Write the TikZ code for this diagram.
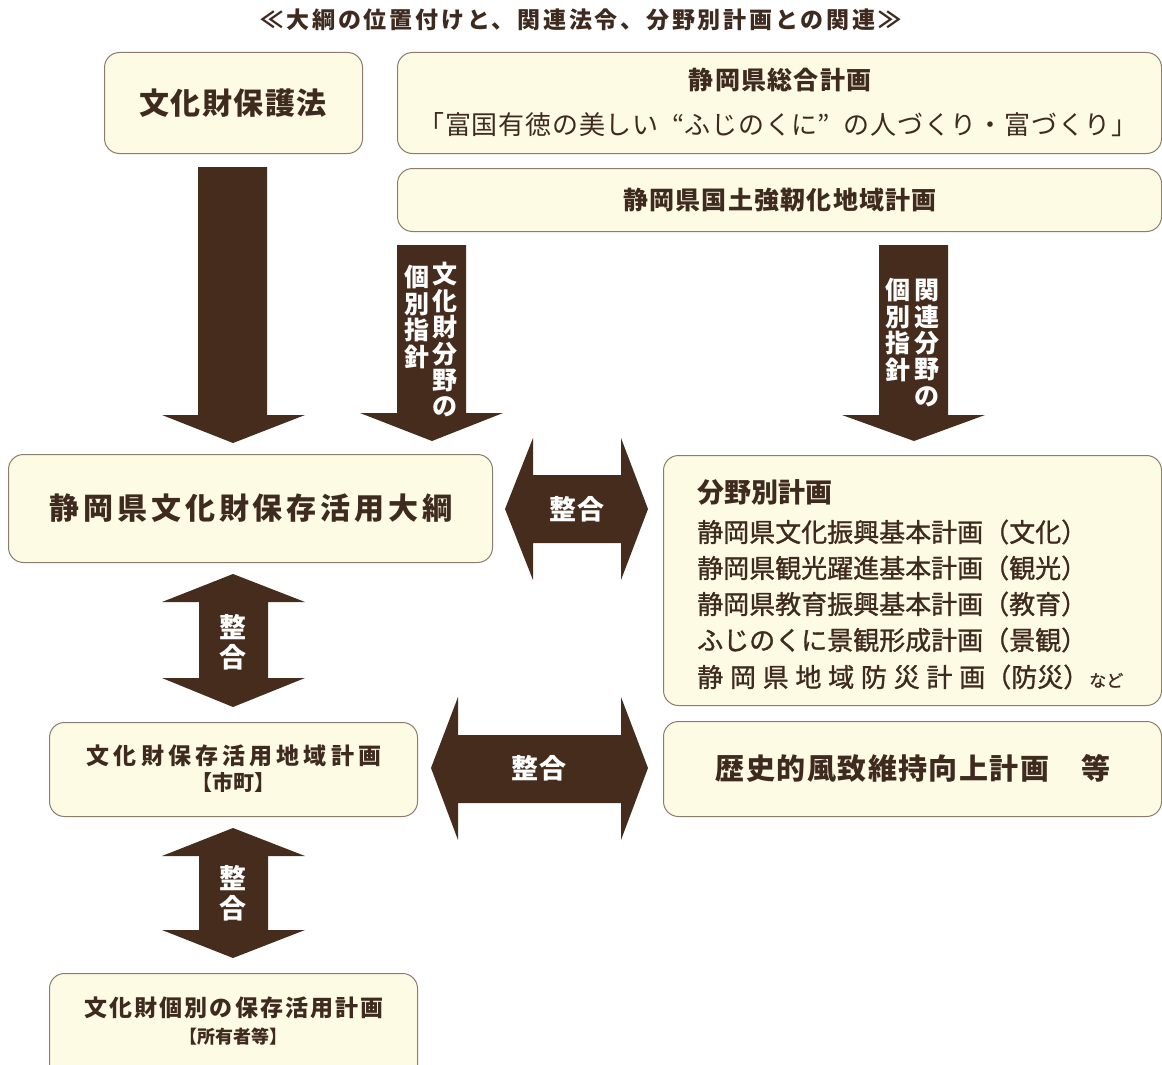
\documentclass[tikz,border=0pt]{standalone}
\usepackage{fontspec}
\setmainfont{Noto Sans CJK JP}
\newfontfamily\jpmed[FakeBold=1.1]{Noto Sans CJK JP}
\definecolor{boxfill}{RGB}{254,251,229}
\definecolor{boxline}{RGB}{140,124,108}
\definecolor{arrowc}{RGB}{69,44,28}
\definecolor{textc}{RGB}{62,42,30}
\newcommand\fs[2]{\fontsize{#1}{#2}\selectfont}
\newcommand\ls[1]{\addfontfeature{LetterSpace=#1}}
\tikzset{
  box/.style={draw=boxline, fill=boxfill, rounded corners=15pt, line width=1pt, inner sep=0pt, anchor=north west},
  blk/.style={fill=arrowc, draw=none},
  txt/.style={text=textc, inner sep=0pt},
  wtxt/.style={text=white, inner sep=0pt, align=center},
}
\begin{document}
\begin{tikzpicture}[x=1pt,y=-1pt]
\clip (0,0) rectangle (1162,1065);
\fill[white] (0,0) rectangle (1162,1065);

% title
\node[txt, font=\fs{23}{26}\bfseries] (title) at (581,20) {\ls{12}≪大綱の位置付けと、関連法令、分野別計画との関連≫};

% boxes
\node[box, minimum width=258pt, minimum height=101pt] (hogo) at (104,52) {};
\node[box, minimum width=764pt, minimum height=101pt] (sogo) at (397,52) {};
\node[box, minimum width=764pt, minimum height=63pt] (kyoj) at (397,168) {};
\node[box, minimum width=484pt, minimum height=108pt] (taiko) at (8,454) {};
\node[box, minimum width=498pt, minimum height=250pt] (bunya) at (663,455) {};
\node[box, minimum width=368pt, minimum height=94pt] (chiiki) at (49,722) {};
\node[box, minimum width=498pt, minimum height=95pt] (rekishi) at (663,721) {};
\node[box, minimum width=368pt, minimum height=110pt] (kobetsu) at (49,973) {};

% box texts
\node[txt, font=\fs{30}{36}\bfseries] (t-hogo) at (233,103) {\ls{5}文化財保護法};
\node[txt, font=\fs{25}{28}\bfseries] (t-sogo1) at (780,80) {\ls{5}静岡県総合計画};
\node[txt, font=\fs{26}{28}] (t-sogo2) at (778,125) {\ls{3}「富国有徳の美しい\makebox[26pt][r]{“}ふじのくに\makebox[26pt][l]{”}の人づくり・富づくり」};
\node[txt, font=\fs{25}{28}\bfseries] (t-kyoj) at (780,200) {\ls{5}静岡県国土強靭化地域計画};
\node[txt, font=\fs{30}{36}\bfseries] (t-taiko) at (251,508) {\ls{13}静岡県文化財保存活用大綱};
\node[txt, font=\fs{27}{32}\bfseries, anchor=west] (t-bunya) at (697,492) {分野別計画};
\node[txt, font=\fs{26}{30}\jpmed, anchor=west] (b1) at (697,532) {静岡県文化振興基本計画（文化）};
\node[txt, font=\fs{26}{30}\jpmed, anchor=west] (b2) at (697,568) {静岡県観光躍進基本計画（観光）};
\node[txt, font=\fs{26}{30}\jpmed, anchor=west] (b3) at (697,604) {静岡県教育振興基本計画（教育）};
\node[txt, font=\fs{26}{30}\jpmed, anchor=west] (b4) at (697,640) {ふじのくに景観形成計画（景観）};
\node[txt, font=\fs{26}{30}\jpmed, anchor=west] (b5) at (697,677) {{\ls{26}静岡県地域防災計画}（防災）{\fs{17}{20}など}};
\node[txt, font=\fs{23}{26}\bfseries] (t-chiiki1) at (234,756) {\ls{18}文化財保存活用地域計画};
\node[txt, font=\fs{21}{24}\bfseries] (t-chiiki2) at (233,782) {\makebox[16pt][r]{【}市町\makebox[16pt][l]{】}};
\node[txt, font=\fs{29}{34}\bfseries] (t-rekishi) at (913,768) {\ls{5}歴史的風致維持向上計画　等};
\node[txt, font=\fs{23}{26}\bfseries] (t-kobetsu1) at (234,1008) {\ls{9}文化財個別の保存活用計画};
\node[txt, font=\fs{18}{22}\bfseries] (t-kobetsu2) at (233,1037) {\makebox[12pt][r]{【}所有者等\makebox[12pt][l]{】}};

% down arrows
\fill[blk] (198,167) -- (267,167) -- (267,415) -- (305,415) -- (233,443) -- (162,415) -- (198,415) -- cycle;
\fill[blk] (397,245) -- (466,245) -- (466,413) -- (503,413) -- (432,441) -- (360,413) -- (397,413) -- cycle;
\fill[blk] (879,245) -- (948,245) -- (948,415) -- (985,415) -- (914,441) -- (842,415) -- (879,415) -- cycle;

\node[wtxt, font=\fs{25}{26.4}\bfseries] (v1a) at (445,340) {文\\化\\財\\分\\野\\の};
\node[wtxt, font=\fs{25}{26.4}\bfseries] (v1b) at (417,317) {個\\別\\指\\針};
\node[wtxt, font=\fs{25}{26.4}\bfseries] (v2a) at (927,343) {関\\連\\分\\野\\の};
\node[wtxt, font=\fs{25}{26.4}\bfseries] (v2b) at (898,330) {個\\別\\指\\針};

% horizontal double arrows
\fill[blk] (505,509) -- (533,438) -- (533,475) -- (621,475) -- (621,438) -- (648,509) -- (621,580) -- (621,543) -- (533,543) -- (533,580) -- cycle;
\node[wtxt, font=\fs{27}{30}\bfseries] (s1) at (577,509) {\ls{4}整合};
\fill[blk] (431,768) -- (458,697) -- (458,735) -- (621,735) -- (621,697) -- (648,768) -- (621,840) -- (621,803) -- (458,803) -- (458,840) -- cycle;
\node[wtxt, font=\fs{27}{30}\bfseries] (s2) at (539,768) {\ls{4}整合};

% vertical double arrows
\fill[blk] (233,574) -- (305,602) -- (268,602) -- (268,678) -- (305,678) -- (233,707) -- (162,678) -- (199,678) -- (199,602) -- (162,602) -- cycle;
\node[wtxt, font=\fs{27}{30}\bfseries] (s3) at (233,642) {整\\合};
\fill[blk] (233,828) -- (305,856) -- (268,856) -- (268,930) -- (305,930) -- (233,958) -- (162,930) -- (199,930) -- (199,856) -- (162,856) -- cycle;
\node[wtxt, font=\fs{27}{30}\bfseries] (s4) at (233,893) {整\\合};
\end{tikzpicture}
\end{document}
